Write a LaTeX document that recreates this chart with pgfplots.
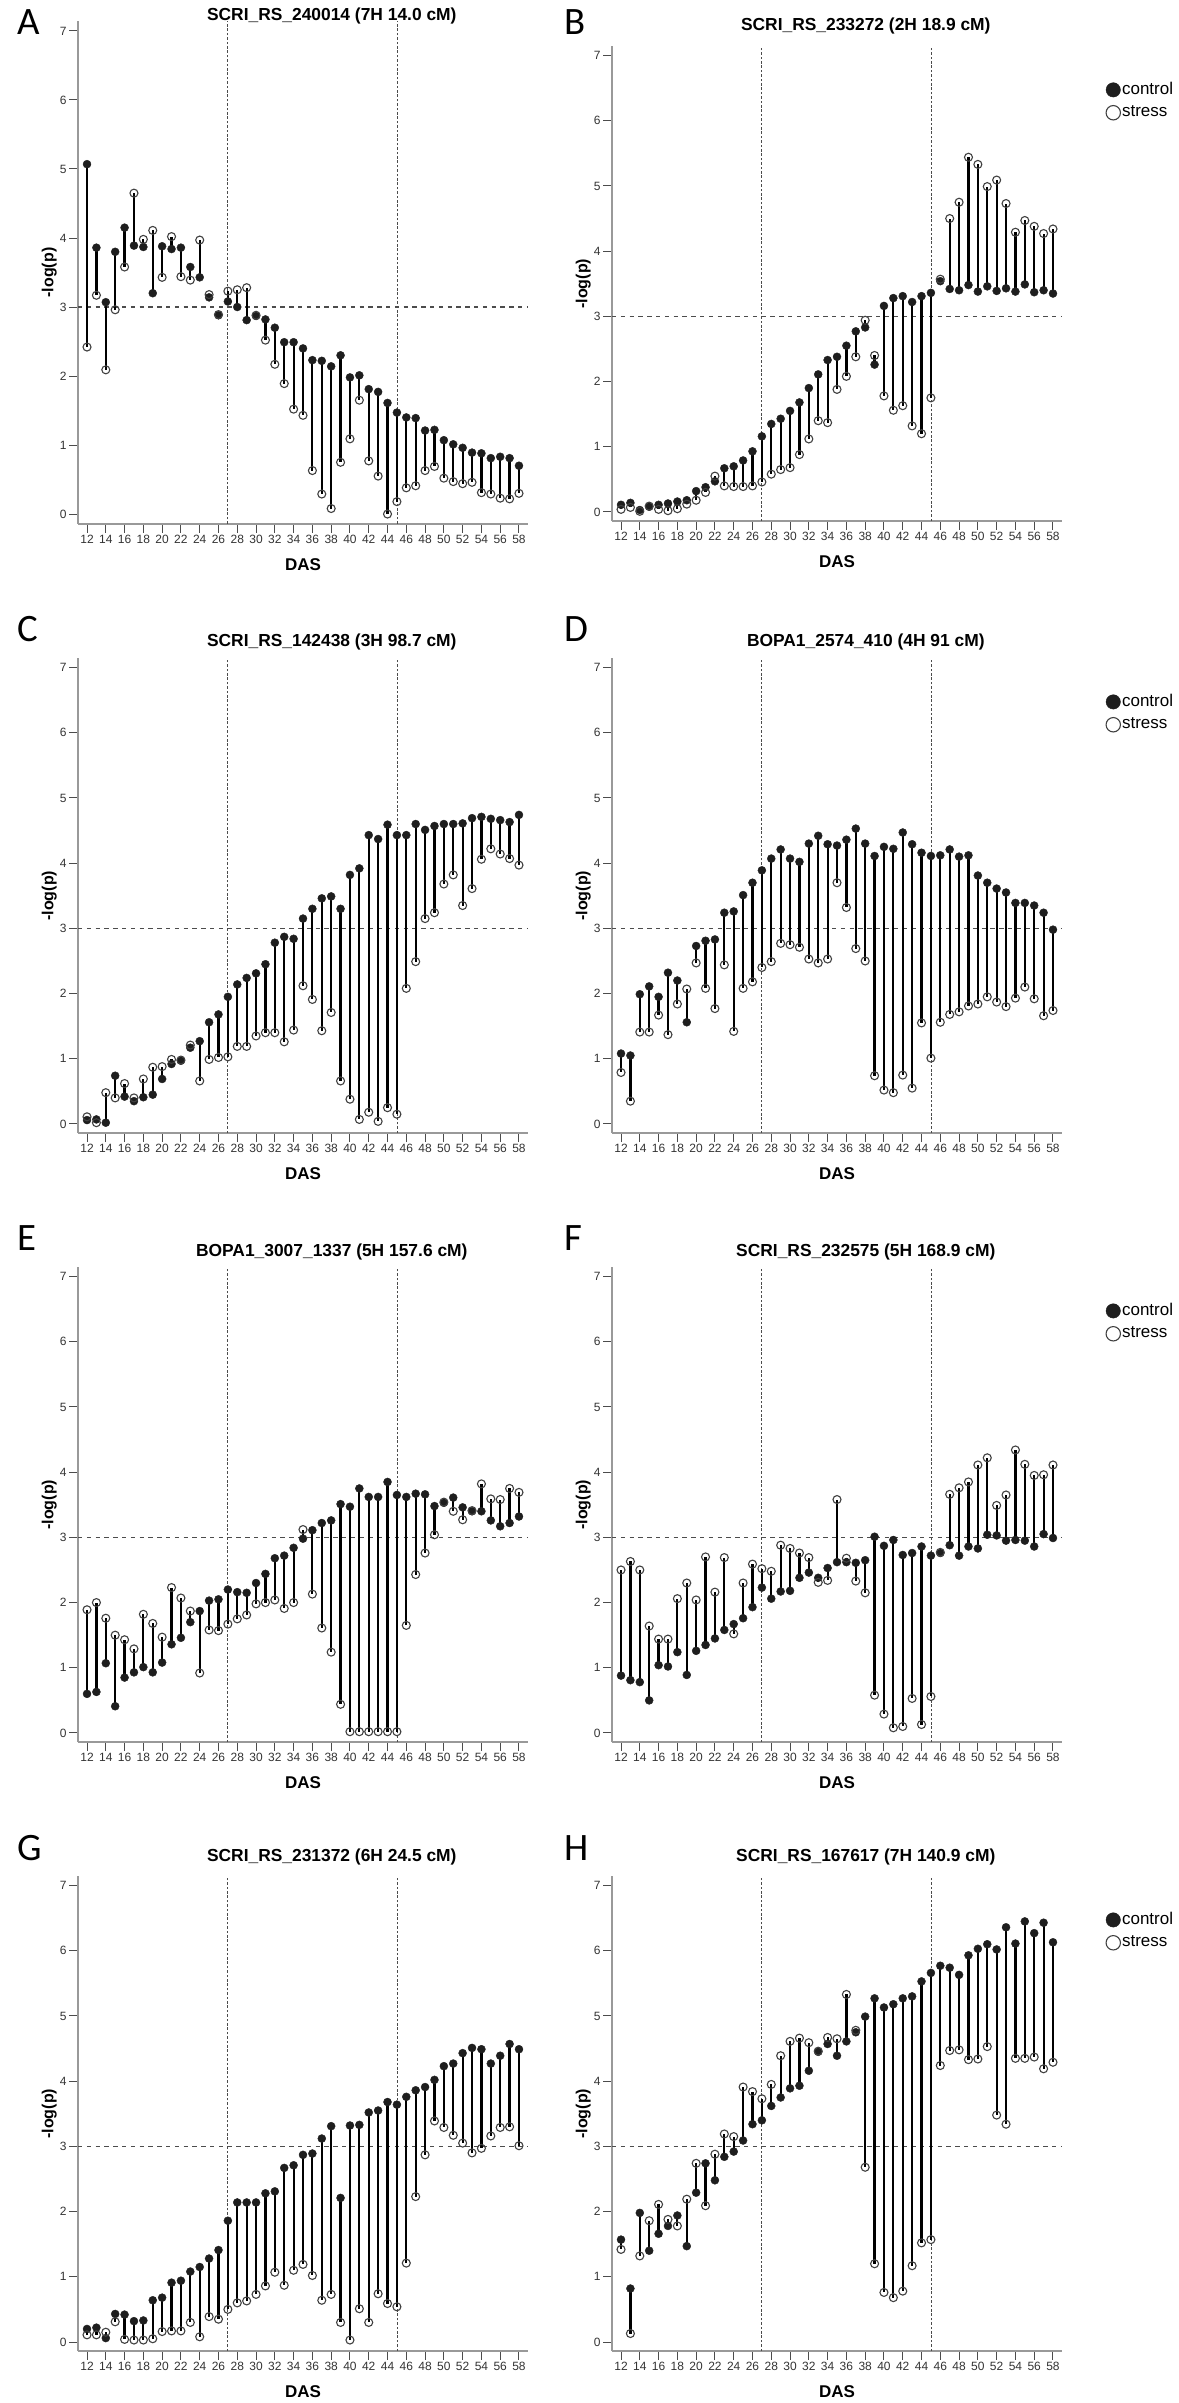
\documentclass[border=0pt]{standalone}
\usepackage{fontspec}
\setmainfont{Liberation Sans}
\newfontfamily\letterfont{Carlito}
\usepackage{pgfplots}
\usepackage{pgfplotstable}
\pgfplotsset{compat=1.18}
\definecolor{ctrl}{HTML}{1E1E1E}

\pgfplotstableread{
x c s
12 5.07 2.42
13 3.86 3.17
14 3.07 2.09
15 3.80 2.96
16 4.15 3.58
17 3.89 4.65
18 3.87 3.98
19 3.20 4.11
20 3.88 3.43
21 3.84 4.02
22 3.86 3.44
23 3.58 3.39
24 3.43 3.97
25 3.14 3.18
26 2.88 2.89
27 3.08 3.23
28 3.00 3.25
29 2.81 3.28
30 2.87 2.88
31 2.82 2.52
32 2.70 2.17
33 2.49 1.89
34 2.49 1.52
35 2.40 1.43
36 2.23 0.63
37 2.22 0.29
38 2.14 0.08
39 2.30 0.75
40 1.98 1.09
41 2.01 1.65
42 1.81 0.77
43 1.77 0.55
44 1.61 0.00
45 1.47 0.18
46 1.40 0.38
47 1.39 0.41
48 1.21 0.63
49 1.22 0.69
50 1.07 0.52
51 1.01 0.47
52 0.96 0.44
53 0.89 0.46
54 0.88 0.31
55 0.81 0.29
56 0.83 0.23
57 0.81 0.22
58 0.70 0.30
}\tA

\pgfplotstableread{
x c s
12 0.11 0.04
13 0.14 0.07
14 0.03 0.01
15 0.08 0.09
16 0.11 0.04
17 0.13 0.02
18 0.16 0.05
19 0.18 0.12
20 0.32 0.18
21 0.38 0.30
22 0.47 0.55
23 0.67 0.40
24 0.70 0.39
25 0.79 0.39
26 0.93 0.40
27 1.16 0.46
28 1.35 0.58
29 1.43 0.65
30 1.55 0.68
31 1.68 0.88
32 1.90 1.12
33 2.11 1.40
34 2.33 1.37
35 2.38 1.88
36 2.55 2.08
37 2.77 2.38
38 2.83 2.94
39 2.26 2.40
40 3.16 1.78
41 3.28 1.56
42 3.31 1.63
43 3.22 1.32
44 3.31 1.20
45 3.36 1.75
46 3.54 3.57
47 3.42 4.50
48 3.40 4.75
49 3.48 5.44
50 3.38 5.33
51 3.46 4.99
52 3.39 5.09
53 3.43 4.73
54 3.38 4.29
55 3.49 4.47
56 3.37 4.38
57 3.40 4.27
58 3.35 4.34
}\tB

\pgfplotstableread{
x c s
12 0.06 0.11
13 0.07 0.02
14 0.02 0.48
15 0.74 0.40
16 0.42 0.62
17 0.35 0.40
18 0.41 0.69
19 0.45 0.87
20 0.69 0.88
21 0.92 0.99
22 0.97 0.98
23 1.17 1.21
24 1.27 0.66
25 1.56 0.99
26 1.68 1.02
27 1.95 1.03
28 2.14 1.19
29 2.24 1.19
30 2.31 1.35
31 2.45 1.40
32 2.78 1.40
33 2.87 1.26
34 2.84 1.44
35 3.15 2.12
36 3.30 1.91
37 3.46 1.43
38 3.49 1.71
39 3.30 0.66
40 3.82 0.38
41 3.92 0.07
42 4.43 0.18
43 4.37 0.04
44 4.59 0.25
45 4.43 0.15
46 4.43 2.08
47 4.60 2.49
48 4.51 3.15
49 4.57 3.24
50 4.60 3.68
51 4.60 3.82
52 4.61 3.35
53 4.69 3.61
54 4.71 4.06
55 4.68 4.22
56 4.66 4.14
57 4.63 4.07
58 4.74 3.97
}\tC

\pgfplotstableread{
x c s
12 1.08 0.79
13 1.05 0.35
14 1.99 1.41
15 2.11 1.41
16 1.95 1.67
17 2.32 1.37
18 2.20 1.84
19 1.56 2.07
20 2.73 2.47
21 2.81 2.08
22 2.83 1.77
23 3.24 2.44
24 3.26 1.42
25 3.51 2.08
26 3.70 2.18
27 3.89 2.40
28 4.07 2.49
29 4.21 2.77
30 4.07 2.75
31 4.02 2.71
32 4.30 2.53
33 4.42 2.47
34 4.29 2.53
35 4.27 3.70
36 4.36 3.32
37 4.53 2.69
38 4.30 2.50
39 4.11 0.74
40 4.25 0.52
41 4.22 0.48
42 4.47 0.75
43 4.29 0.55
44 4.16 1.55
45 4.11 1.01
46 4.12 1.56
47 4.21 1.68
48 4.10 1.72
49 4.12 1.81
50 3.81 1.84
51 3.70 1.95
52 3.61 1.87
53 3.55 1.80
54 3.39 1.93
55 3.39 2.10
56 3.35 1.92
57 3.24 1.66
58 2.98 1.74
}\tD

\pgfplotstableread{
x c s
12 0.60 1.89
13 0.63 2.00
14 1.07 1.76
15 0.41 1.50
16 0.85 1.43
17 0.93 1.29
18 1.01 1.82
19 0.93 1.68
20 1.08 1.47
21 1.36 2.23
22 1.46 2.07
23 1.70 1.87
24 1.87 0.92
25 2.03 1.58
26 2.05 1.57
27 2.20 1.67
28 2.16 1.75
29 2.15 1.81
30 2.30 1.98
31 2.44 2.00
32 2.68 2.04
33 2.72 1.91
34 2.84 2.00
35 2.98 3.12
36 3.11 2.13
37 3.22 1.61
38 3.26 1.24
39 3.51 0.44
40 3.47 0.02
41 3.75 0.02
42 3.62 0.02
43 3.62 0.02
44 3.85 0.02
45 3.65 0.02
46 3.62 1.65
47 3.67 2.43
48 3.66 2.76
49 3.48 3.04
50 3.53 3.54
51 3.61 3.40
52 3.46 3.27
53 3.40 3.41
54 3.40 3.82
55 3.26 3.59
56 3.17 3.58
57 3.22 3.75
58 3.32 3.69
}\tE

\pgfplotstableread{
x c s
12 0.88 2.50
13 0.81 2.63
14 0.78 2.50
15 0.50 1.64
16 1.04 1.44
17 1.02 1.44
18 1.24 2.06
19 0.89 2.30
20 1.26 2.04
21 1.35 2.70
22 1.45 2.16
23 1.58 2.69
24 1.67 1.52
25 1.76 2.30
26 1.93 2.59
27 2.23 2.52
28 2.06 2.48
29 2.17 2.88
30 2.18 2.83
31 2.38 2.76
32 2.46 2.69
33 2.38 2.31
34 2.53 2.34
35 2.62 3.58
36 2.62 2.68
37 2.61 2.33
38 2.65 2.15
39 3.01 0.58
40 2.87 0.29
41 2.96 0.08
42 2.73 0.10
43 2.76 0.53
44 2.86 0.13
45 2.72 0.56
46 2.76 2.77
47 2.88 3.66
48 2.72 3.76
49 2.86 3.85
50 2.83 4.11
51 3.04 4.22
52 3.03 3.49
53 2.95 3.65
54 2.96 4.34
55 2.95 4.12
56 2.86 3.95
57 3.05 3.96
58 2.99 4.11
}\tF

\pgfplotstableread{
x c s
12 0.20 0.11
13 0.22 0.11
14 0.06 0.15
15 0.43 0.31
16 0.42 0.04
17 0.32 0.03
18 0.33 0.03
19 0.64 0.05
20 0.68 0.16
21 0.91 0.17
22 0.94 0.17
23 1.08 0.30
24 1.15 0.08
25 1.28 0.39
26 1.41 0.35
27 1.86 0.50
28 2.14 0.60
29 2.14 0.63
30 2.14 0.73
31 2.28 0.86
32 2.31 1.07
33 2.67 0.87
34 2.71 1.10
35 2.87 1.19
36 2.89 1.02
37 3.12 0.64
38 3.31 0.73
39 2.21 0.30
40 3.32 0.03
41 3.33 0.51
42 3.52 0.30
43 3.55 0.74
44 3.68 0.59
45 3.64 0.54
46 3.76 1.21
47 3.86 2.23
48 3.91 2.87
49 4.02 3.39
50 4.23 3.29
51 4.27 3.17
52 4.43 3.05
53 4.51 2.90
54 4.49 2.97
55 4.27 3.16
56 4.39 3.29
57 4.57 3.30
58 4.49 3.01
}\tG

\pgfplotstableread{
x c s
12 1.57 1.42
13 0.82 0.13
14 1.98 1.32
15 1.40 1.86
16 1.66 2.11
17 1.78 1.88
18 1.94 1.78
19 1.47 2.19
20 2.29 2.74
21 2.74 2.09
22 2.48 2.88
23 2.84 3.19
24 2.92 3.15
25 3.09 3.91
26 3.34 3.84
27 3.40 3.73
28 3.62 3.95
29 3.75 4.39
30 3.89 4.61
31 3.93 4.66
32 4.16 4.59
33 4.45 4.46
34 4.57 4.67
35 4.39 4.65
36 4.61 5.33
37 4.75 4.78
38 4.99 2.68
39 5.27 1.20
40 5.13 0.76
41 5.18 0.68
42 5.27 0.78
43 5.30 1.17
44 5.53 1.52
45 5.66 1.57
46 5.77 4.24
47 5.74 4.47
48 5.63 4.48
49 5.93 4.33
50 6.03 4.34
51 6.10 4.53
52 6.02 3.48
53 6.36 3.34
54 6.11 4.35
55 6.45 4.35
56 6.27 4.37
57 6.43 4.19
58 6.13 4.29
}\tH

\pgfplotsset{
  panel/.style={
    scale only axis, width=225pt, height=237.35pt,
    anchor=south west,
    xmin=11.04, xmax=58.96, ymin=-0.14, ymax=7.14,
    axis x line*=bottom, axis y line*=left,
    axis line style={draw=black!40, line width=0.9pt},
    xtick={12,14,...,58}, ytick={0,1,...,7},
    tick align=outside, major tick length=4.5pt,
    tick style={draw=black!70, line width=0.5pt},
    tick label style={font=\fontsize{6}{7}\selectfont, text=black!80},
    xticklabel style={inner sep=1pt},
    yticklabel style={inner sep=1pt},
    /pgf/number format/assume math mode=true,
    xlabel={DAS}, ylabel={-log(p)},
    xlabel style={at={(axis description cs:0.5,0)}, anchor=center, yshift=-20.5pt, font=\fontsize{8.5}{10}\selectfont\bfseries},
    ylabel style={at={(axis description cs:-0.064,0.5)}, anchor=center, font=\fontsize{8}{10}\selectfont\bfseries},
    title style={at={(axis description cs:0.564,1)}, anchor=center, font=\fontsize{8.7}{10}\selectfont\bfseries},
    clip=false,
    legend style={at={(1.097,0.885)}, anchor=west, draw=none, fill=none,
      inner sep=0pt, font=\fontsize{8.5}{10}\selectfont, row sep=2.5pt,
      nodes={inner sep=0.8pt}, cells={anchor=west}},
    legend image code/.code={\draw[mark repeat=1,mark phase=1,#1,mark size=3.6pt] plot coordinates {(3.6pt,0pt)};},
  },
  ctrlmark/.style={only marks, mark=*, mark size=2pt, mark options={draw=ctrl, fill=ctrl, line width=0.2pt, solid}},
  strmark/.style={only marks, mark=o, mark size=2pt, mark options={draw=black!75, line width=0.55pt, solid}},
}

\newcommand{\panelplots}[1]{%
  \addplot[forget plot, draw=black!70, line width=0.4pt, dash pattern=on 1.3pt off 0.9pt] coordinates {(27,-0.14) (27,7.14)};
  \addplot[forget plot, draw=black!70, line width=0.4pt, dash pattern=on 1.3pt off 0.9pt] coordinates {(45,-0.14) (45,7.14)};
  \addplot[forget plot, draw=black!70, line width=0.7pt, dash pattern=on 2.2pt off 2.2pt] coordinates {(11.04,3) (58.96,3)};
  \addplot[forget plot, draw=none, mark=none, error bars/.cd, y dir=both, y explicit, error mark=none,
    error bar style={line width=1.1pt, draw=black, solid}]
    table[x=x, y expr={(\thisrow{c}+\thisrow{s})/2}, y error expr={abs(\thisrow{c}-\thisrow{s})/2}] {#1};
  \addplot[ctrlmark] table[x=x, y=c] {#1};
  \addplot[strmark] table[x=x, y=s] {#1};
}

\begin{document}
\begin{tikzpicture}
\useasboundingbox (0,0) rectangle (589pt,-1201.5pt);

\begin{axis}[panel, height=251.2pt, at={(39pt,-261.85pt)},
  title={SCRI\_RS\_240014 (7H 14.0 cM)}, title style={yshift=-3.1pt}]
\panelplots{\tA}
\end{axis}

\begin{axis}[panel, at={(306pt,-260.55pt)},
  title={SCRI\_RS\_233272 (2H 18.9 cM)}, title style={yshift=4pt}]
\panelplots{\tB}
\legend{control,stress}
\end{axis}

\begin{axis}[panel, at={(39pt,-566.55pt)},
  title={SCRI\_RS\_142438 (3H 98.7 cM)}, title style={yshift=2.3pt}]
\panelplots{\tC}
\end{axis}

\begin{axis}[panel, at={(306pt,-566.55pt)},
  title={BOPA1\_2574\_410 (4H 91 cM)}, title style={yshift=2.3pt}]
\panelplots{\tD}
\legend{control,stress}
\end{axis}

\begin{axis}[panel, at={(39pt,-871.05pt)},
  title={BOPA1\_3007\_1337 (5H 157.6 cM)}, title style={yshift=1.9pt}]
\panelplots{\tE}
\end{axis}

\begin{axis}[panel, at={(306pt,-871.05pt)},
  title={SCRI\_RS\_232575 (5H 168.9 cM)}, title style={yshift=1.9pt}]
\panelplots{\tF}
\legend{control,stress}
\end{axis}

\begin{axis}[panel, at={(39pt,-1175.55pt)},
  title={SCRI\_RS\_231372 (6H 24.5 cM)}, title style={yshift=3.9pt}]
\panelplots{\tG}
\end{axis}

\begin{axis}[panel, at={(306pt,-1175.55pt)},
  title={SCRI\_RS\_167617 (7H 140.9 cM)}, title style={yshift=3.9pt}]
\panelplots{\tH}
\legend{control,stress}
\end{axis}

\tikzset{letter/.style={anchor=base west, inner sep=0pt, font=\letterfont\fontsize{19.4}{20}\selectfont}}
\node[letter] at (8.5pt,-17.5pt) {A};
\node[letter] at (282pt,-17.5pt) {B};
\node[letter] at (8.5pt,-320.5pt) {C};
\node[letter] at (282pt,-320.5pt) {D};
\node[letter] at (8.5pt,-625pt) {E};
\node[letter] at (282pt,-625pt) {F};
\node[letter] at (8.5pt,-930pt) {G};
\node[letter] at (282pt,-930pt) {H};
\end{tikzpicture}
\end{document}
